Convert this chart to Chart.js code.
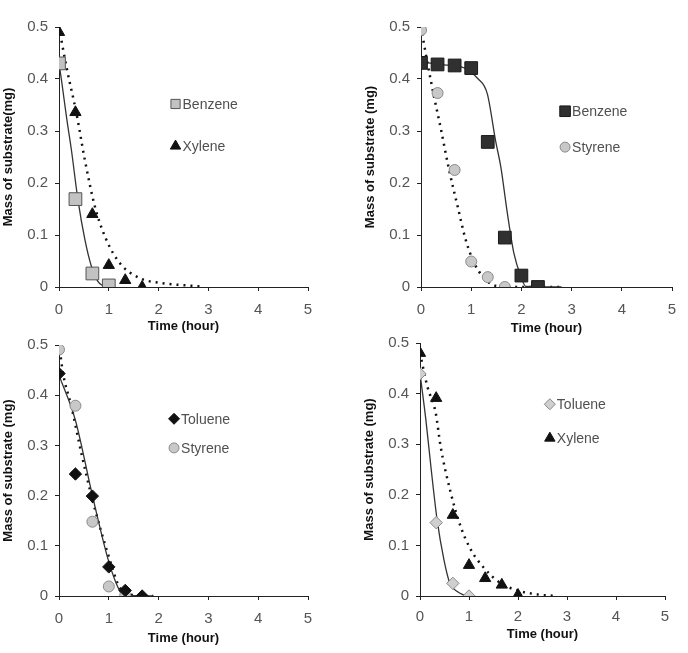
<!DOCTYPE html>
<html>
<head>
<meta charset="utf-8">
<script src="https://cdn.jsdelivr.net/npm/chart.js@4.4.1/dist/chart.umd.min.js"></script>
<style>
  body { margin: 0; background: #fff; }
  #wrap { position: relative; width: 688px; height: 653px; overflow: hidden; }
  canvas { position: absolute; }
</style>
</head>
<body>
<div id="wrap">
  <canvas id="c1"></canvas>
  <canvas id="c2"></canvas>
  <canvas id="c3"></canvas>
  <canvas id="c4"></canvas>
</div>
<script>
// axis ticks
const xTickValues = [0, 1, 2, 3, 4, 5];
const yTickValues = [0, 0.1, 0.2, 0.3, 0.4, 0.5];

// panel 1 : Benzene + Xylene
const p1BenzeneT = [0, 0.33, 0.67, 1];
const p1BenzeneY = [0.43, 0.169, 0.026, 0.003];
const p1XyleneT = [0, 0.33, 0.67, 1, 1.33, 1.67];
const p1XyleneY = [0.49, 0.336, 0.14, 0.042, 0.013, 0.0];
const p1BenzeneFitT = [0, 0.05, 0.15, 0.25, 0.38, 0.52, 0.65, 0.78, 0.92];
const p1BenzeneFitY = [0.43, 0.398, 0.327, 0.263, 0.168, 0.091, 0.04, 0.011, 0];
const p1XyleneFitT = [0, 0.15, 0.35, 0.52, 0.72, 0.95, 1.22, 1.62, 2.02, 2.56, 2.9];
const p1XyleneFitY = [0.5, 0.423, 0.334, 0.244, 0.155, 0.091, 0.046, 0.017, 0.008, 0.003, 0.001];

// panel 2 : Benzene + Styrene
const p2BenzeneT = [0, 0.33, 0.67, 1, 1.33, 1.67, 2, 2.33];
const p2BenzeneY = [0.431, 0.428, 0.426, 0.421, 0.279, 0.095, 0.022, 0.0];
const p2StyreneT = [0, 0.33, 0.67, 1, 1.33, 1.67];
const p2StyreneY = [0.494, 0.373, 0.225, 0.049, 0.019, 0.0];
const p2BenzeneFitT = [0, 0.46, 0.79, 1.13, 1.32, 1.49, 1.59, 1.72, 1.85, 1.99, 2.09, 2.8];
const p2BenzeneFitY = [0.433, 0.427, 0.424, 0.401, 0.372, 0.279, 0.231, 0.142, 0.065, 0.02, 0.001, 0];
const p2StyreneFitT = [0, 0.13, 0.26, 0.4, 0.56, 0.73, 0.89, 1.06, 1.26, 1.46, 1.8, 2.8];
const p2StyreneFitY = [0.5, 0.43, 0.366, 0.302, 0.225, 0.155, 0.091, 0.046, 0.017, 0.003, 0, 0];

// panel 3 : Toluene + Styrene
const p3TolueneT = [0, 0.33, 0.67, 1, 1.33, 1.67];
const p3TolueneY = [0.443, 0.243, 0.199, 0.058, 0.011, 0.0];
const p3StyreneT = [0, 0.33, 0.67, 1, 1.33];
const p3StyreneY = [0.491, 0.379, 0.148, 0.019, 0.001];
const p3TolueneFitT = [0, 0.33, 0.66, 0.98, 1.15, 1.28, 1.9];
const p3TolueneFitY = [0.44, 0.35, 0.205, 0.075, 0.025, 0.002, 0];
const p3StyreneFitT = [0, 0.08, 0.25, 0.45, 0.65, 0.82, 1.02, 1.18, 1.35, 1.89];
const p3StyreneFitY = [0.503, 0.444, 0.377, 0.284, 0.2, 0.138, 0.072, 0.025, 0.004, 0];

// panel 4 : Toluene + Xylene
const p4TolueneT = [0, 0.33, 0.67, 1];
const p4TolueneY = [0.439, 0.145, 0.025, 0.0];
const p4XyleneT = [0, 0.33, 0.67, 1, 1.33, 1.67, 2];
const p4XyleneY = [0.48, 0.391, 0.16, 0.061, 0.035, 0.022, 0.002];
const p4TolueneFitT = [0, 0.12, 0.23, 0.35, 0.49, 0.61, 0.76, 0.93];
const p4TolueneFitY = [0.44, 0.348, 0.249, 0.15, 0.071, 0.025, 0.009, 0];
const p4XyleneFitT = [0, 0.15, 0.32, 0.42, 0.63, 0.83, 1.04, 1.31, 1.65, 1.99, 2.4, 2.81];
const p4XyleneFitY = [0.48, 0.414, 0.362, 0.296, 0.203, 0.137, 0.091, 0.055, 0.025, 0.011, 0.003, 0];

const FONT = "'Liberation Sans', Arial, sans-serif";

function pts(t, y) {
    return t.map((v, i) => ({ x: v, y: y[i] }));
}

// marker styles
const styles = {
    benzeneLight: { pointStyle: 'rect', radius: 9, legendRadius: 6.5, bg: '#c2c2c2', border: '#555' },
    benzeneDark:  { pointStyle: 'rect', radius: 9, legendRadius: 7.5, bg: '#303030', border: '#1a1a1a' },
    xylene:       { pointStyle: 'triangle', radius: 6.5, legendRadius: 6, bg: '#111', border: '#111' },
    styrene:      { pointStyle: 'circle', radius: 5.5, legendRadius: 5, bg: '#c8c8c8', border: '#8a8a8a' },
    tolueneDark:  { pointStyle: 'rectRot', radius: 6.2, legendRadius: 5.5, bg: '#111', border: '#111' },
    tolueneLight: { pointStyle: 'rectRot', radius: 6.2, legendRadius: 5.5, bg: '#cfcfcf', border: '#888' }
};

function markerSet(label, t, y, st) {
    return {
        type: 'scatter',
        label: label,
        data: pts(t, y),
        pointStyle: st.pointStyle,
        pointRadius: st.radius,
        pointBackgroundColor: st.bg,
        pointBorderColor: st.border,
        pointBorderWidth: 1,
        showLine: false,
        order: 0,
        legendStyle: st
    };
}

function fitSet(t, y, dotted) {
    return {
        type: 'line',
        data: pts(t, y),
        borderColor: dotted ? '#111' : '#333',
        borderWidth: dotted ? 2.5 : 1.3,
        borderDash: dotted ? [2, 5] : [],
        pointRadius: 0,
        cubicInterpolationMode: 'monotone',
        fill: false,
        order: 1
    };
}

// legend drawn inside the plot, anchored to data coordinates
const innerLegend = {
    id: 'innerLegend',
    afterDraw(chart, args, opts) {
        const ctx = chart.ctx;
        const xs = chart.scales.x, ys = chart.scales.y;
        const items = chart.data.datasets.filter(d => d.legendStyle);
        ctx.save();
        ctx.font = '14px ' + FONT;
        ctx.textBaseline = 'middle';
        items.forEach((d, i) => {
            const px = xs.getPixelForValue(opts.x);
            const py = ys.getPixelForValue(opts.y[i]);
            const st = d.legendStyle;
            ctx.fillStyle = st.bg;
            ctx.strokeStyle = st.border;
            ctx.lineWidth = 1;
            Chart.helpers.drawPoint(ctx, { pointStyle: st.pointStyle, radius: st.legendRadius, borderWidth: 1, rotation: 0 }, px, py);
            ctx.fillStyle = '#505050';
            ctx.fillText(d.label, px + 7, py + 1);
        });
        ctx.restore();
    }
};

function makePanel(id, geo, datasets, legend, yTitle) {
    const canvas = document.getElementById(id);
    const xH = geo.titleGap + 9;
    canvas.width = 59 + geo.plotW + 30;
    canvas.height = 27 + geo.plotH + xH;
    canvas.style.left = (geo.axisX - 59) + 'px';
    canvas.style.top = (geo.plotTop - 27) + 'px';

    return new Chart(canvas.getContext('2d'), {
        type: 'scatter',
        data: { datasets: datasets },
        options: {
            responsive: false,
            animation: false,
            layout: { padding: { left: 0, top: 27, right: 30, bottom: 0 } },
            plugins: {
                legend: { display: false },
                tooltip: { enabled: false },
                innerLegend: legend
            },
            scales: {
                x: {
                    type: 'linear', min: 0, max: 5,
                    afterBuildTicks: s => { s.ticks = xTickValues.map(v => ({ value: v })); },
                    afterFit: s => { s.height = xH; },
                    grid: { drawOnChartArea: false, drawTicks: true, tickLength: 4, color: '#222' },
                    border: { color: '#222', width: 1 },
                    ticks: { color: '#555', padding: geo.tickGap - 11, font: { size: 15, family: FONT }, maxRotation: 0 },
                    title: { display: true, text: 'Time (hour)', color: '#111', padding: { top: 0, bottom: 0 },
                             font: { size: 13, weight: 'bold', family: FONT } }
                },
                y: {
                    type: 'linear', min: 0, max: 0.5,
                    afterBuildTicks: s => { s.ticks = yTickValues.map(v => ({ value: v })); },
                    afterFit: s => { s.width = 59; },
                    grid: { drawOnChartArea: false, drawTicks: true, tickLength: 4, color: '#222' },
                    border: { color: '#222', width: 1 },
                    ticks: { color: '#555', padding: 7, font: { size: 15, family: FONT } },
                    title: { display: true, text: yTitle, color: '#111', padding: { top: 1, bottom: 0 },
                             font: { size: 13, weight: 'bold', family: FONT } }
                }
            }
        },
        plugins: [innerLegend]
    });
}

makePanel('c1', { axisX: 59, plotTop: 27, plotW: 249, plotH: 260, tickGap: 21, titleGap: 38 }, [
    markerSet('Benzene', p1BenzeneT, p1BenzeneY, styles.benzeneLight),
    markerSet('Xylene', p1XyleneT, p1XyleneY, styles.xylene),
    fitSet(p1BenzeneFitT, p1BenzeneFitY, false),
    fitSet(p1XyleneFitT, p1XyleneFitY, true)
], { x: 2.34, y: [0.352, 0.271] }, 'Mass of substrate(mg)');

makePanel('c2', { axisX: 421, plotTop: 27, plotW: 251, plotH: 260, tickGap: 21, titleGap: 40 }, [
    markerSet('Benzene', p2BenzeneT, p2BenzeneY, styles.benzeneDark),
    markerSet('Styrene', p2StyreneT, p2StyreneY, styles.styrene),
    fitSet(p2BenzeneFitT, p2BenzeneFitY, false),
    fitSet(p2StyreneFitT, p2StyreneFitY, true)
], { x: 2.87, y: [0.338, 0.269] }, 'Mass of substrate (mg)');

makePanel('c3', { axisX: 59, plotTop: 345, plotW: 249, plotH: 251, tickGap: 21, titleGap: 41 }, [
    markerSet('Toluene', p3TolueneT, p3TolueneY, styles.tolueneDark),
    markerSet('Styrene', p3StyreneT, p3StyreneY, styles.styrene),
    fitSet(p3TolueneFitT, p3TolueneFitY, false),
    fitSet(p3StyreneFitT, p3StyreneFitY, true)
], { x: 2.31, y: [0.353, 0.295] }, 'Mass of substrate (mg)');

makePanel('c4', { axisX: 420, plotTop: 343, plotW: 245, plotH: 253, tickGap: 19, titleGap: 37 }, [
    markerSet('Toluene', p4TolueneT, p4TolueneY, styles.tolueneLight),
    markerSet('Xylene', p4XyleneT, p4XyleneY, styles.xylene),
    fitSet(p4TolueneFitT, p4TolueneFitY, false),
    fitSet(p4XyleneFitT, p4XyleneFitY, true)
], { x: 2.65, y: [0.379, 0.312] }, 'Mass of substrate (mg)');
</script>
</body>
</html>
